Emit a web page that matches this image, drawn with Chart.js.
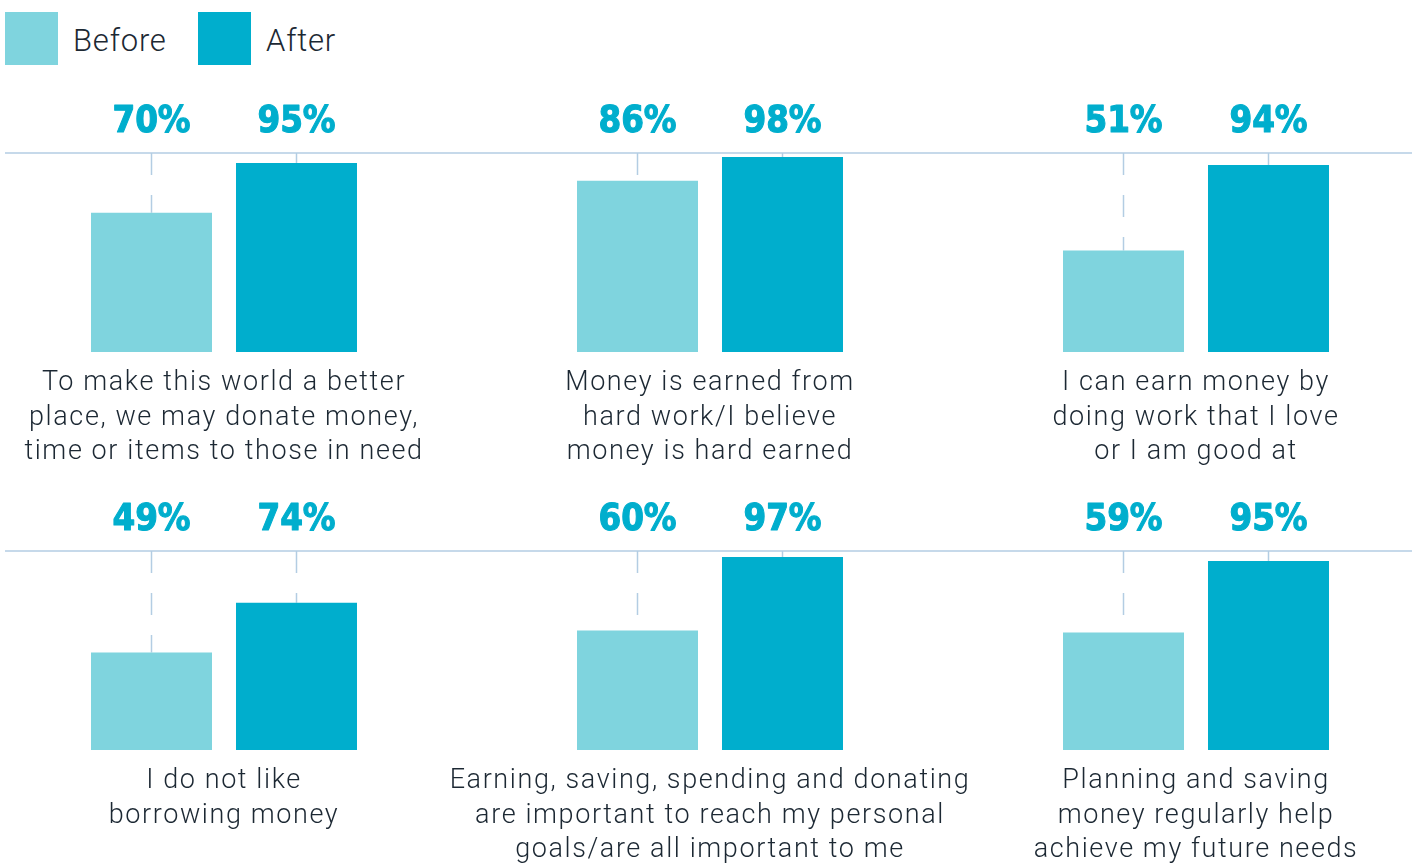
<!DOCTYPE html>
<html>
<head>
<meta charset="utf-8">
<script src="https://cdn.jsdelivr.net/npm/chart.js@4.4.1/dist/chart.umd.min.js"></script>
<style>
  html, body { margin: 0; padding: 0; background: #fff; overflow: hidden; width: 1416px; height: 868px; }
  #wrap { position: relative; width: 1416px; height: 868px; }
  .legend { position: absolute; top: 12px; height: 53px; display: flex; align-items: center;
            font-family: "Roboto", "Lato", sans-serif; font-weight: 300; font-size: 31px; color: #1c2833;
            letter-spacing: 0.8px; }
  .legend span { position: relative; top: 2px; }
  .legend .box { width: 53px; height: 53px; margin-right: 15px; }
  .row { position: absolute; left: -19px; width: 1458px; height: 398px; }
</style>
</head>
<body>
<div id="wrap">
  <div class="legend" style="left:5px"><div class="box" style="background:#7fd4de"></div><span>Before</span></div>
  <div class="legend" style="left:198px"><div class="box" style="background:#00aecd"></div><span>After</span></div>
  <div class="row" style="top:80px"><canvas id="row1"></canvas></div>
  <div class="row" style="top:478px"><canvas id="row2"></canvas></div>
</div>
<script>
// statements shown under each pair of bars
const statements = [
  ["To make this world a better", "place, we may donate money,", "time or items to those in need"],
  ["Money is earned from", "hard work/I believe", "money is hard earned"],
  ["I can earn money by", "doing work that I love", "or I am good at"],
  ["I do not like", "borrowing money"],
  ["Earning, saving, spending and donating", "are important to reach my personal", "goals/are all important to me"],
  ["Planning and saving", "money regularly help", "achieve my future needs"]
];
const beforeValues = [70, 86, 51, 49, 60, 59];
const afterValues = [95, 98, 94, 74, 97, 95];
const seriesNames = ["Before", "After"];

const beforeColor = "#7fd4de";
const afterColor = "#00aecd";
const ruleColor = "#b3cde3";

// top rule at 100%, dashed guides and percentage labels
const guidePlugin = {
  id: "guides",
  beforeDraw(chart) {
    // wider tracking for the statement text under the bars
    chart.ctx.letterSpacing = "1.6px";
  },
  beforeDatasetsDraw(chart) {
    const { ctx, chartArea } = chart;
    ctx.save();
    ctx.strokeStyle = ruleColor;
    ctx.lineWidth = 1.5;
    ctx.beginPath();
    ctx.moveTo(24, chartArea.top);
    ctx.lineTo(1431, chartArea.top);
    ctx.stroke();
    ctx.setLineDash([22, 20]);
    chart.data.datasets.forEach((ds, i) => {
      chart.getDatasetMeta(i).data.forEach(bar => {
        ctx.beginPath();
        ctx.moveTo(bar.x, chartArea.top);
        ctx.lineTo(bar.x, bar.y);
        ctx.stroke();
      });
    });
    ctx.restore();
  },
  afterDatasetsDraw(chart) {
    const { ctx, chartArea } = chart;
    ctx.save();
    ctx.letterSpacing = "0px";
    ctx.fillStyle = afterColor;
    ctx.strokeStyle = afterColor;
    ctx.lineWidth = 1.2;
    ctx.lineJoin = "round";
    ctx.font = "bold 38px 'DejaVu Sans'";
    ctx.textAlign = "center";
    ctx.textBaseline = "alphabetic";
    chart.data.datasets.forEach((ds, i) => {
      chart.getDatasetMeta(i).data.forEach((bar, j) => {
        ctx.save();
        ctx.translate(bar.x, chartArea.top - 21);
        ctx.scale(0.86, 1);
        ctx.fillText(ds.data[j] + "%", 0, 0);
        ctx.strokeText(ds.data[j] + "%", 0, 0);
        ctx.restore();
      });
    });
    ctx.restore();
  }
};

function makeRow(canvasId, labels, before, after) {
  return new Chart(document.getElementById(canvasId), {
    type: "bar",
    data: {
      labels: labels,
      datasets: [
        { label: seriesNames[0], data: before, backgroundColor: beforeColor },
        { label: seriesNames[1], data: after, backgroundColor: afterColor }
      ]
    },
    options: {
      responsive: true,
      maintainAspectRatio: false,
      animation: false,
      layout: { padding: { top: 73, left: 0, right: 0, bottom: 0 } },
      datasets: {
        bar: { categoryPercentage: 0.5967, barPercentage: 0.8345 }
      },
      scales: {
        x: {
          grid: { display: false },
          border: { display: false },
          ticks: {
            color: "#1c2833",
            padding: 6,
            autoSkip: false,
            maxRotation: 0,
            font: { family: "Roboto, Lato, sans-serif", size: 27, weight: "300", lineHeight: 1.28 }
          },
          afterFit(scale) { scale.height = 126; }
        },
        y: { display: false, min: 0, max: 100 }
      },
      plugins: {
        legend: { display: false },
        tooltip: { enabled: false }
      }
    },
    plugins: [guidePlugin]
  });
}

makeRow("row1", statements.slice(0, 3), beforeValues.slice(0, 3), afterValues.slice(0, 3));
makeRow("row2", statements.slice(3, 6), beforeValues.slice(3, 6), afterValues.slice(3, 6));
</script>
</body>
</html>
